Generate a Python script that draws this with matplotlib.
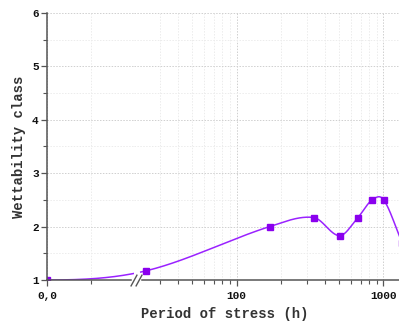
import numpy as np
import matplotlib
matplotlib.use("Agg")
import matplotlib.pyplot as plt
from matplotlib.ticker import FixedLocator, NullFormatter, FixedFormatter, MultipleLocator

# stress duration (h) and mean wettability class
hours = [0, 24, 168, 336, 504, 672, 840, 1008, 1344]
wettability = [1.0, 1.17, 2.0, 2.17, 1.83, 2.17, 2.5, 2.5, 1.7]

x_break = 20.0
x_max = 1276.0
lin_px = 87.0      # width of the linear 0..20 part
dec_px = 146.7     # width of one decade on the log part

plt.rcParams["font.family"] = ["Liberation Mono", "DejaVu Sans Mono"]
plt.rcParams["font.weight"] = "bold"

W, H = 399, 322
fig = plt.figure(figsize=(W / 100, H / 100), dpi=100)
left, bottom, top = 47, 42, 13
log_px = np.log10(x_max / x_break) * dec_px
ax1 = fig.add_axes([left / W, bottom / H, lin_px / W, (H - bottom - top) / H])
ax2 = fig.add_axes([(left + lin_px) / W, bottom / H, log_px / W, (H - bottom - top) / H], sharey=ax1)


def to_s(x):
    x = np.asarray(x, float)
    return np.where(x <= x_break, x / x_break * lin_px,
                    lin_px + np.log10(np.maximum(x, 1e-9) / x_break) * dec_px)


def from_s(s):
    s = np.asarray(s, float)
    return np.where(s <= lin_px, s / lin_px * x_break,
                    x_break * 10 ** ((s - lin_px) / dec_px))


def cardinal_spline(xk, yk, xs):
    # Hermite segments with Catmull-Rom style tangents
    n = len(xk)
    m = np.zeros(n)
    m[1:-1] = (yk[2:] - yk[:-2]) / (xk[2:] - xk[:-2])
    m[0] = 0.0
    m[-1] = (yk[-1] - yk[-2]) / (xk[-1] - xk[-2])
    idx = np.clip(np.searchsorted(xk, xs) - 1, 0, n - 2)
    h = xk[idx + 1] - xk[idx]
    t = (xs - xk[idx]) / h
    h00 = 2 * t ** 3 - 3 * t ** 2 + 1
    h10 = t ** 3 - 2 * t ** 2 + t
    h01 = -2 * t ** 3 + 3 * t ** 2
    h11 = t ** 3 - t ** 2
    return h00 * yk[idx] + h10 * h * m[idx] + h01 * yk[idx + 1] + h11 * h * m[idx + 1]


sk = to_s(hours)
ss = np.linspace(sk[0], sk[-1], 800)
ys = cardinal_spline(sk, np.array(wettability), ss)
xs = from_s(ss)

line_c = "#9a22ff"
mark_c = "#8a00ee"

m1 = xs <= 20.0
ax1.plot(xs[m1], ys[m1], color=line_c, lw=1.1)
m2 = xs >= 22.2
ax2.plot(xs[m2], ys[m2], color=line_c, lw=1.1)
hrs = np.array(hours)
wet = np.array(wettability)
ax1.plot(hrs[hrs <= x_break], wet[hrs <= x_break], "s", color=mark_c, ms=5, mec=mark_c)
ax2.plot(hrs[hrs > x_break], wet[hrs > x_break], "s", color=mark_c, ms=5, mec=mark_c)

ax1.set_xlim(0, x_break)
ax2.set_xscale("log")
ax2.set_xlim(x_break, x_max)
ax1.set_ylim(1, 6)

spine_c = "#555555"
for ax in (ax1, ax2):
    for sp in ("top", "right"):
        ax.spines[sp].set_visible(False)
    ax.spines["bottom"].set_color(spine_c)
    ax.spines["bottom"].set_linewidth(1.1)
    ax.tick_params(which="both", colors=spine_c, labelcolor="#111111", labelsize=8,
                   direction="out", pad=4)
    ax.tick_params(which="major", length=4, width=0.9)
    ax.tick_params(which="minor", length=3, width=0.8)
    ax.grid(True, which="major", ls=(0, (1.5, 1.5)), color="#cfcfcf", lw=0.7)
    ax.grid(True, which="minor", ls=(0, (1.5, 1.5)), color="#ececec", lw=0.7)
    ax.set_axisbelow(True)

ax1.tick_params(axis="y", which="both", pad=2)
ax1.spines["left"].set_color(spine_c)
ax1.spines["left"].set_linewidth(1.1)
ax1.spines["bottom"].set_bounds(0, 19.3)
ax2.spines["left"].set_visible(False)
ax2.spines["bottom"].set_bounds(22.6, x_max)
ax2.tick_params(axis="y", which="both", left=False, labelleft=False)

ax1.yaxis.set_major_locator(MultipleLocator(1))
ax1.yaxis.set_minor_locator(MultipleLocator(0.5))
ax1.xaxis.set_major_locator(FixedLocator([0]))
ax1.xaxis.set_major_formatter(FixedFormatter(["0,0"]))
ax1.xaxis.set_minor_locator(FixedLocator([10]))

ax2.xaxis.set_major_locator(FixedLocator([100, 1000]))
ax2.xaxis.set_major_formatter(FixedFormatter(["100", "1000"]))
minor = [v * d for d in (10, 100) for v in range(2, 10) if x_break * 1.2 < v * d < x_max]
ax2.xaxis.set_minor_locator(FixedLocator(minor))
ax2.xaxis.set_minor_formatter(NullFormatter())

for ax in (ax1, ax2):
    for lab in ax.get_xticklabels() + ax.get_yticklabels():
        lab.set_fontweight("bold")

# break marks on the x axis
for dx in (0.0, 0.019):
    ax2.plot([dx - 0.011, dx + 0.011], [-0.022, 0.018], transform=ax2.transAxes,
             color=spine_c, lw=1.0, clip_on=False)

ax1.set_ylabel("Wettability class", fontsize=10, fontweight="bold", color="#333333", labelpad=4)
fig.text((left + 178) / W, 1 / H, "Period of stress (h)", fontsize=10, fontweight="bold",
         color="#333333", ha="center", va="bottom")

fig.savefig("out.png", dpi=100)
